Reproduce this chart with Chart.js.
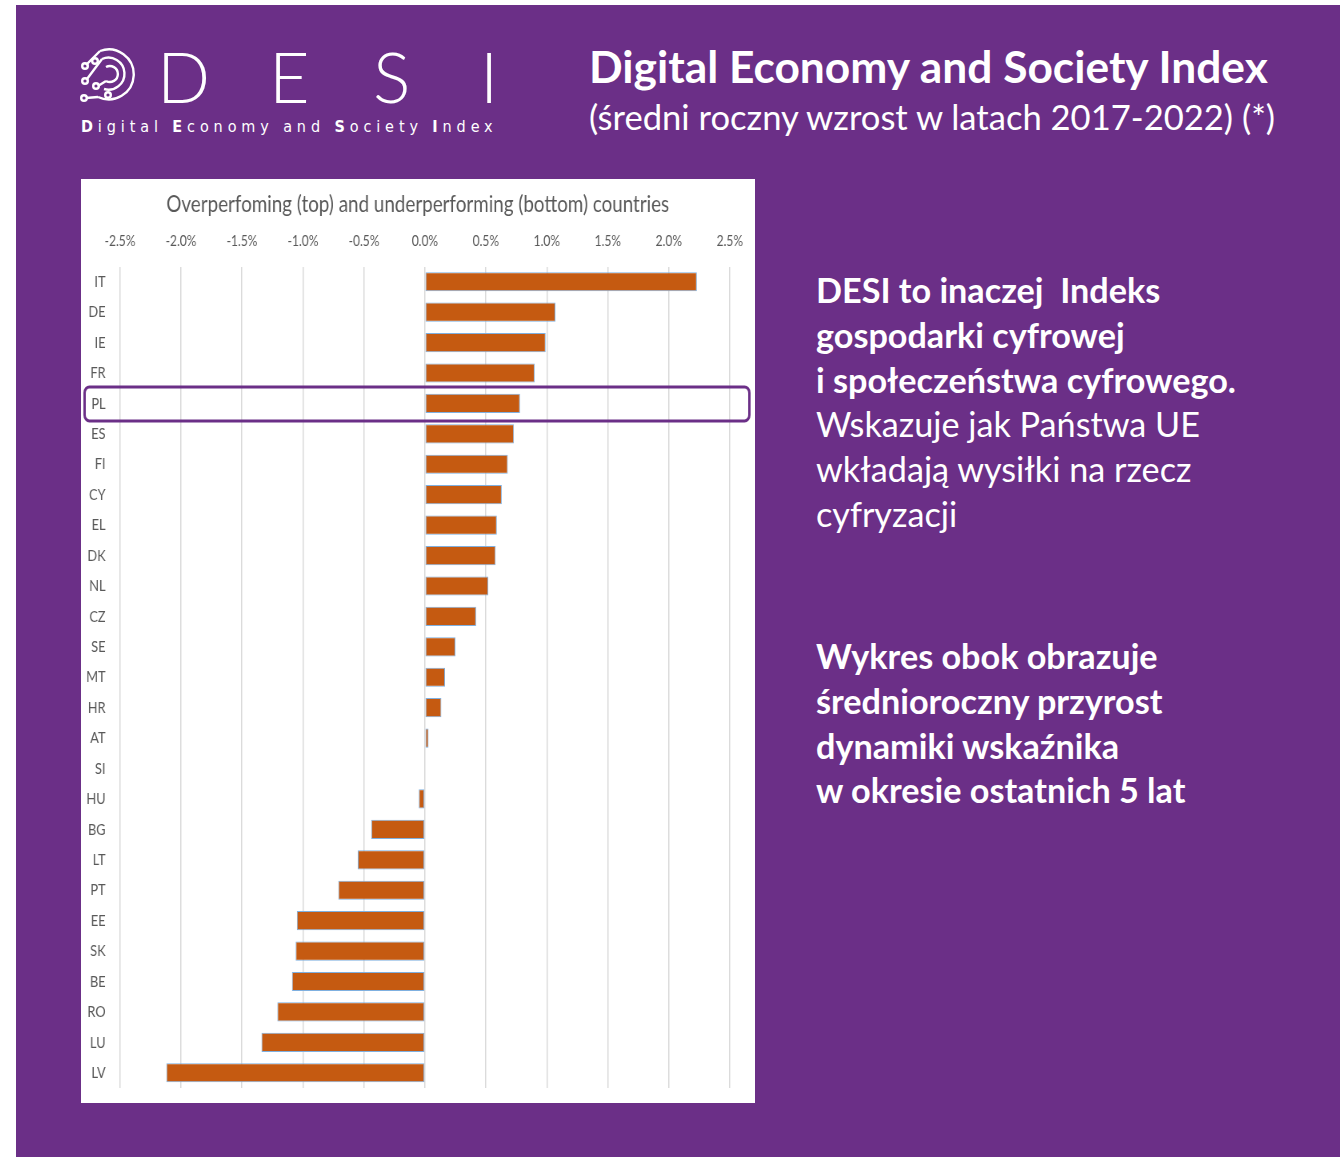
<!DOCTYPE html>
<html>
<head>
<meta charset="utf-8">
<script src="https://cdn.jsdelivr.net/npm/chart.js@4/dist/chart.umd.min.js"></script>
<style>
  html, body { margin: 0; padding: 0; background: #fff; }
  body { width: 1340px; height: 1157px; position: relative; overflow: hidden; font-family: Lato, "Open Sans", sans-serif; }
  #slajd { position: absolute; left: 16px; top: 5px; width: 1324px; height: 1152px; background: #6b2f87; }
  .abs { position: absolute; color: #fff; white-space: nowrap; }
  .litera { font-family: Lato, sans-serif; font-weight: 300; font-size: 70px; line-height: 72px; top: 40px; }
  #podpis { left: 81px; top: 117px; font-family: "DejaVu Sans Condensed", "DejaVu Sans", sans-serif; font-size: 16px; letter-spacing: 4.9px; }
  #podpis b { font-weight: bold; }
  #tytul { left: 589px; top: 40px; font-size: 44.3px; font-weight: bold; line-height: 52px; }
  #podtytul { left: 589px; top: 96px; font-size: 34.6px; line-height: 42px; }
  .opis { left: 816px; font-size: 34.2px; line-height: 44.8px; }
  .opis b { font-weight: bold; }
  #wykres { position: absolute; left: 81px; top: 179px; width: 674px; height: 924px; background: #fff; overflow: hidden; }
  #wykres canvas { transform: scaleX(0.8); transform-origin: 0 0; }
</style>
</head>
<body>
<div id="slajd"></div>

<svg class="abs" style="left:78px;top:43px" width="60" height="60" viewBox="0 0 60 60" fill="none" stroke="#fff" stroke-width="2.4">
  <path d="M22 8 A25 25 0 1 1 20 54" />
  <path d="M24 16 A16 16 0 1 1 26 46" />
  <path d="M28 24 A8 8 0 1 1 28 38" />
  <path d="M8 22 L22 8" /><circle cx="7" cy="23" r="2.8" />
  <path d="M8 55 L20 54" /><circle cx="6" cy="55" r="2.8" />
  <path d="M9 36 L24 16" /><circle cx="7" cy="38" r="2.8" />
  <circle cx="17" cy="18" r="2.8" />
  <circle cx="18" cy="43" r="2.8" /><path d="M20 43 L28 38" />
  <circle cx="30" cy="52" r="2.8" />
</svg>
<div class="abs litera" style="left:157px">D</div>
<div class="abs litera" style="left:269px">E</div>
<div class="abs litera" style="left:373px">S</div>
<div class="abs litera" style="left:480px">I</div>
<div class="abs" id="podpis"><b>D</b>igital <b>E</b>conomy and <b>S</b>ociety <b>I</b>ndex</div>

<div class="abs" id="tytul">Digital Economy and Society Index</div>
<div class="abs" id="podtytul">(średni roczny wzrost w latach 2017-2022) (*)</div>

<div class="abs opis" style="top:268px"><b>DESI to inaczej&nbsp; Indeks</b><br><b>gospodarki cyfrowej</b><br><b>i społeczeństwa cyfrowego.</b><br>Wskazuje jak Państwa UE<br>wkładają wysiłki na rzecz<br>cyfryzacji</div>
<div class="abs opis" style="top:634px"><b>Wykres obok obrazuje</b><br><b>średnioroczny przyrost</b><br><b>dynamiki wskaźnika</b><br><b>w okresie ostatnich 5 lat</b></div>

<div id="wykres"><canvas id="grafico-desi" width="842" height="924"></canvas></div>

<script>
// kraje od najlepszego do najgorszego
const kraje = ["IT", "DE", "IE", "FR", "PL", "ES", "FI", "CY", "EL", "DK", "NL", "CZ", "SE", "MT",
  "HR", "AT", "SI", "HU", "BG", "LT", "PT", "EE", "SK", "BE", "RO", "LU", "LV"];
// sredni roczny wzrost, w procentach
const wzrost = [2.23, 1.07, 0.99, 0.90, 0.78, 0.73, 0.68, 0.63, 0.59, 0.58, 0.52, 0.42, 0.25, 0.165,
  0.135, 0.03, 0.005, -0.05, -0.44, -0.55, -0.71, -1.05, -1.06, -1.09, -1.21, -1.34, -2.12];
const zaznaczony = "PL";
const tytulWykresu = "Overperfoming (top) and underperforming (bottom) countries";

// canvas jest sciskany w poziomie przez CSS (scaleX 0.8), stad waskie napisy
const fontWykresu = "Lato, 'Open Sans', sans-serif";

// ramka wokol wybranego kraju
const ramkaPL = {
  id: "ramkaPL",
  afterDraw(chart) {
    const y = chart.scales.y.getPixelForValue(kraje.indexOf(zaznaczony));
    const ctx = chart.ctx;
    ctx.save();
    ctx.strokeStyle = "#6b2f87";
    ctx.lineWidth = 3;
    ctx.beginPath();
    ctx.roundRect(4.5, y - 16.5, chart.width - 11, 34, 6);
    ctx.stroke();
    ctx.restore();
  }
};

new Chart(document.getElementById("grafico-desi").getContext("2d"), {
  type: "bar",
  data: {
    labels: kraje,
    datasets: [{
      data: wzrost,
      backgroundColor: "#c55a11",
      borderColor: "#7fb0e0",
      borderWidth: 1,
      borderSkipped: false,
      barPercentage: 0.63,
      categoryPercentage: 1
    }]
  },
  options: {
    indexAxis: "y",
    responsive: false,
    devicePixelRatio: 1,
    animation: false,
    layout: { padding: { left: 0, right: 0, top: 0, bottom: 15 } },
    plugins: {
      legend: { display: false },
      tooltip: { enabled: false },
      title: {
        display: true,
        text: tytulWykresu,
        color: "#595959",
        font: { family: fontWykresu, size: 23.5, weight: "normal" },
        padding: { top: 11, bottom: 10 }
      }
    },
    scales: {
      x: {
        position: "top",
        min: -2.5,
        max: 2.5,
        afterFit(s) {
          s.height = 38.3;
          s.paddingLeft = 0;
          s.paddingRight = 31;
        },
        ticks: {
          stepSize: 0.5,
          padding: 16,
          color: "#595959",
          font: { family: fontWykresu, size: 15 },
          callback: (v) => v.toFixed(1) + "%"
        },
        grid: { color: "#d9d9d9", lineWidth: 1.5, drawTicks: false },
        border: { display: false }
      },
      y: {
        afterFit(s) {
          s.width = 48.75;
          s.paddingTop = 0;
          s.paddingBottom = 0;
        },
        ticks: {
          padding: 18,
          color: "#595959",
          font: { family: fontWykresu, size: 16 }
        },
        grid: { display: false, drawTicks: false },
        border: { display: false }
      }
    }
  },
  plugins: [ramkaPL]
});
</script>
</body>
</html>
